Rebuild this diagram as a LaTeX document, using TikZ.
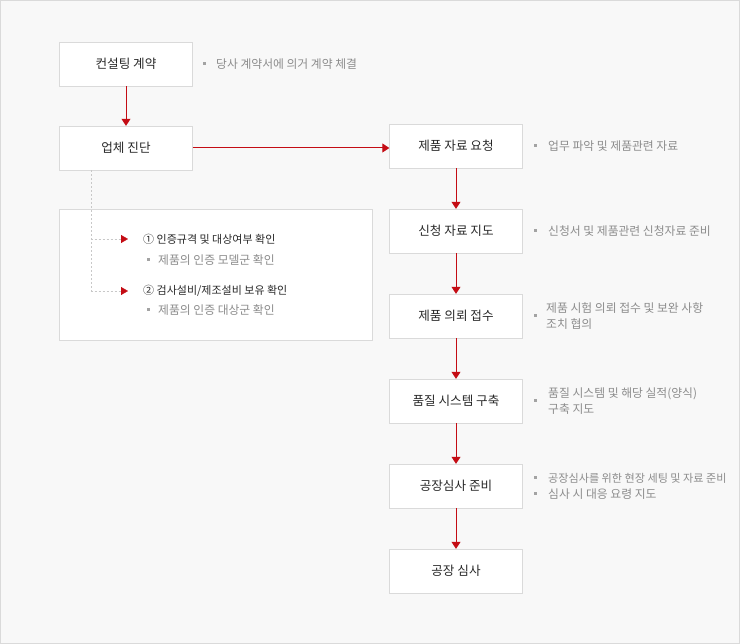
\documentclass[tikz,border=0pt]{standalone}
\usepackage{fontspec}
\setmainfont{Noto Sans CJK KR}
\usetikzlibrary{arrows.meta}
\definecolor{redline}{RGB}{196,12,20}
\definecolor{boxline}{RGB}{218,218,218}
\definecolor{bgfill}{RGB}{248,248,248}
\definecolor{titletxt}{RGB}{40,40,40}
\definecolor{desctxt}{RGB}{140,140,140}
\definecolor{dotgray}{RGB}{200,200,200}
\tikzstyle{stepbox}=[draw=boxline,fill=white,minimum width=133pt,minimum height=44pt,inner sep=0pt,text=titletxt,font=\fontsize{12.6}{14}\selectfont]
\tikzstyle{panel}=[draw=boxline,fill=white,minimum width=313pt,minimum height=131pt,inner sep=0pt]
\tikzstyle{desc}=[anchor=west,inner sep=0pt,align=left,text=desctxt,font=\fontsize{11.8}{16}\selectfont]
\tikzstyle{item}=[anchor=west,inner sep=0pt,text=titletxt,font=\fontsize{11}{16}\selectfont]
\tikzstyle{sq}=[fill=desctxt!80,minimum size=3pt,inner sep=0pt]
\tikzstyle{flow}=[draw=redline,line width=1pt,-{Triangle[length=7pt,width=9pt]}]
\tikzstyle{dotline}=[draw=dotgray,dash pattern=on 2pt off 2pt,-{Triangle[length=7pt,width=8pt,color=redline]}]

\begin{document}
\begin{tikzpicture}[x=1pt,y=-1pt]
    \useasboundingbox (0,0) rectangle (740,644);
    \draw[draw=boxline,fill=bgfill] (0.5,0.5) rectangle (739.5,643.5);

    % left column
    \node[stepbox] (c1) at (126,64)  {컨설팅 계약};
    \node[stepbox] (d2) at (126,148) {업체 진단};
    \node[sq] (b0) at (204.5,64) {};
    \node[desc] (t0) at (216,64) {당사 계약서에 의거 계약 체결};

    % check panel
    \node[panel] (panel) at (215.5,274.5) {};
    \node[item] (chk1) at (143,239) {① 인증규격 및 대상여부 확인};
    \node[sq] (b1) at (148.5,260) {};
    \node[desc] (t1) at (158,260) {제품의 인증 모델군 확인};
    \node[item] (chk2) at (143,291) {② 검사설비/제조설비 보유 확인};
    \node[sq] (b2) at (148.5,310) {};
    \node[desc] (t2) at (158,310) {제품의 인증 대상군 확인};

    % right column
    \node[stepbox] (s1) at (456,146) {제품 자료 요청};
    \node[stepbox] (s2) at (456,231) {신청 자료 지도};
    \node[stepbox] (s3) at (456,316) {제품 의뢰 접수};
    \node[stepbox] (s4) at (456,401) {품질 시스템 구축};
    \node[stepbox] (s5) at (456,486) {공장심사 준비};
    \node[stepbox] (s6) at (456,571) {공장 심사};

    \node[sq] (b3) at (535,146) {};
    \node[desc] (t3) at (548,146) {업무 파악 및 제품관련 자료};
    \node[sq] (b4) at (535,231) {};
    \node[desc] (t4) at (548,231) {신청서 및 제품관련 신청자료 준비};
    \node[sq] (b5) at (535,316) {};
    \node[desc] (t5) at (546,316) {제품 시험 의뢰 접수 및 보완 사항\\조치 협의};
    \node[sq] (b6) at (535,401) {};
    \node[desc] (t6) at (548,401) {품질 시스템 및 해당 실적(양식)\\구축 지도};
    \node[sq] (b7) at (535,478) {};
    \node[desc,font=\fontsize{11.1}{16}\selectfont] (t7) at (548,478) {공장심사를 위한 현장 세팅 및 자료 준비};
    \node[sq] (b8) at (535,494) {};
    \node[desc] (t8) at (548,494) {심사 시 대응 요령 지도};

    \foreach \from/\to in {c1/d2,s1/s2,s2/s3,s3/s4,s4/s5,s5/s6}
    \draw[flow] (\from) -- (\to);
    \draw[flow] (d2.east) -- (d2.east -| s1.west);

    \foreach \to in {chk1,chk2}
    \draw[dotline] ([xshift=32pt]d2.south west) |- ([xshift=-15pt]\to.west);
\end{tikzpicture}
\end{document}
